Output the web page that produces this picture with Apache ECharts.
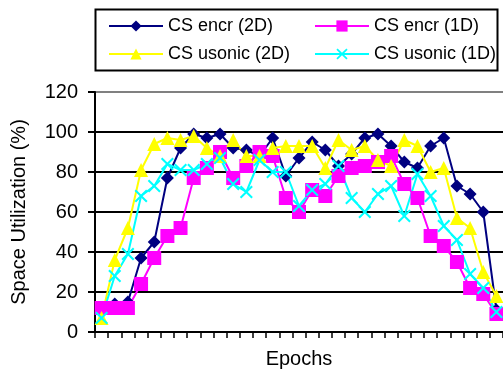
<!DOCTYPE html>
<html>
<head>
<meta charset="utf-8">
<script src="https://cdn.jsdelivr.net/npm/echarts@6/dist/echarts.min.js"></script>
<style>
  html, body { margin: 0; padding: 0; background: #fff; }
  #chart { width: 503px; height: 374px; }
</style>
</head>
<body>
<div id="chart"></div>
<script>
var epochs = [];
for (var i = 1; i <= 31; i++) epochs.push(String(i));

var encr2D   = [12, 14, 15, 37, 45, 77, 92, 99, 97, 99, 92, 91, 88, 97, 78, 87, 95, 91, 83, 89, 97, 99, 93, 85, 82, 93, 97, 73, 69, 60, 11];
var encr1D   = [12, 12, 12, 24, 37, 48, 52, 77, 82, 90, 77, 83, 90, 88, 67, 60, 71, 68, 78, 82, 83, 85, 88, 74, 67, 48, 43, 35, 22, 19, 9];
var usonic2D = [7, 36, 52, 81, 94, 97, 96, 98, 92, 88, 96, 88, 88, 92, 93, 93, 93, 82, 96, 91, 93, 86, 83, 96, 93, 80, 82, 57, 52, 30, 18];
var usonic1D = [7, 28, 39, 68, 73, 84, 81, 81, 84, 87, 74, 70, 86, 80, 80, 63, 71, 74, 83, 67, 60, 69, 73, 58, 79, 68, 53, 46, 29, 22, 10];

var yTicks = { min: 0, max: 120, step: 20 };

var font = 'Liberation Sans, Arial, sans-serif';
var crossPath = 'path://M0,1.1L1.1,0L5,3.9L8.9,0L10,1.1L6.1,5L10,8.9L8.9,10L5,6.1L1.1,10L0,8.9L3.9,5Z';

var chart = echarts.init(document.getElementById('chart'));

function lineSeries(name, data, color, symbol, size) {
    return {
        name: name,
        type: 'line',
        data: data,
        symbol: symbol,
        symbolSize: size,
        showAllSymbol: true,
        animation: false,
        lineStyle: { color: color, width: 2 },
        itemStyle: { color: color }
    };
}

var legendText = { fontFamily: font, fontSize: 18, color: '#000' };

var option = {
    animation: false,
    grid: { left: 95, top: 92, width: 411, bottom: 42, containLabel: false },
    graphic: [{
        type: 'rect',
        shape: { x: 95.5, y: 9.5, width: 402, height: 61 },
        style: { fill: 'none', stroke: '#000', lineWidth: 2 },
        z: 100
    }],
    legend: [
        {
            data: ['CS encr (2D)', 'CS usonic (2D)'],
            orient: 'vertical',
            left: 103, top: 12,
            itemWidth: 54, itemHeight: 14, itemGap: 10,
            textStyle: legendText
        },
        {
            data: ['CS encr (1D)', 'CS usonic (1D)'],
            orient: 'vertical',
            left: 309, top: 12,
            itemWidth: 54, itemHeight: 14, itemGap: 10,
            textStyle: legendText
        }
    ],
    xAxis: {
        type: 'category',
        data: epochs,
        boundaryGap: true,
        name: 'Epochs',
        nameLocation: 'middle',
        nameGap: 17,
        nameTextStyle: { fontFamily: font, fontSize: 20, color: '#000' },
        axisLine: { lineStyle: { color: '#000', width: 2 } },
        axisTick: { show: true, interval: 0, length: 6, lineStyle: { color: '#000', width: 1.5 } },
        axisLabel: { show: false },
        splitLine: { show: false }
    },
    yAxis: {
        type: 'value',
        min: yTicks.min,
        max: yTicks.max,
        interval: yTicks.step,
        name: 'Space Utilization (%)',
        nameLocation: 'middle',
        nameGap: 66,
        nameTextStyle: { fontFamily: font, fontSize: 20, color: '#000' },
        axisLine: { show: true, lineStyle: { color: '#000', width: 2 } },
        axisTick: { show: true, length: 7, lineStyle: { color: '#000', width: 2 } },
        axisLabel: { margin: 17, fontFamily: font, fontSize: 20, color: '#000' },
        splitLine: {
            show: true,
            lineStyle: { color: ['#000', '#000', '#000', '#000', '#000', '#000', '#808080'], width: 2 }
        }
    },
    series: [
        lineSeries('CS encr (2D)', encr2D, '#000080', 'diamond', 13),
        lineSeries('CS encr (1D)', encr1D, '#FF00FF', 'rect', 14),
        lineSeries('CS usonic (2D)', usonic2D, '#FFFF00', 'triangle', 14),
        lineSeries('CS usonic (1D)', usonic1D, '#00FFFF', crossPath, 13)
    ]
};

chart.setOption(option);
</script>
</body>
</html>
